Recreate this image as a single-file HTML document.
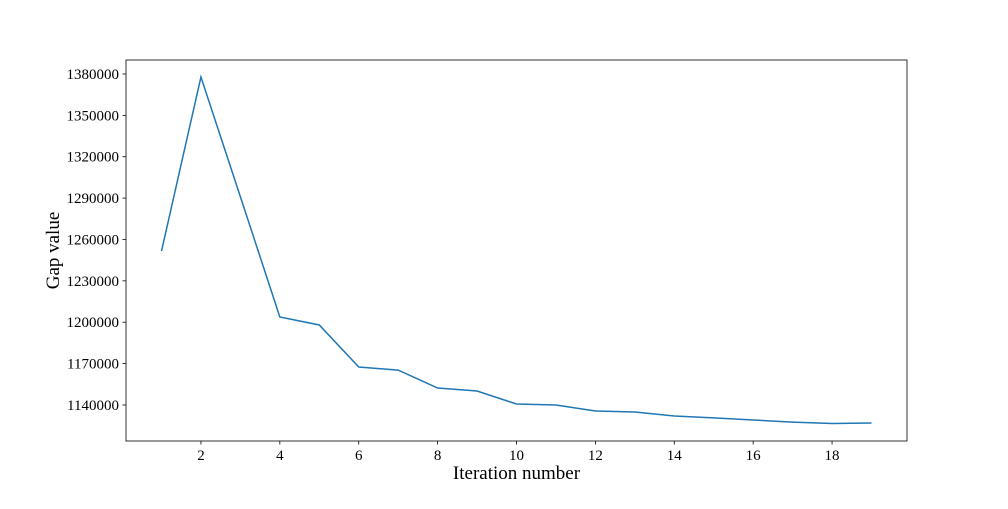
<!DOCTYPE html>
<html><head><meta charset="utf-8"><style>
body{margin:0;background:#fff;}
svg text{font-family:"Liberation Serif",serif;}
</style></head><body>
<svg id="chart" width="1008" height="504" xmlns="http://www.w3.org/2000/svg"></svg>
<script>
const iterations=[1,2,3,4,5,6,7,8,9,10,11,12,13,14,15,16,17,18,19];
const gapValues=[1251600,1377800,1291000,1203800,1198000,1167500,1165300,1152300,1150100,1140700,1140000,1135600,1134900,1132000,1130600,1129100,1127600,1126600,1126900];
const xTicks=[2,4,6,8,10,12,14,16,18];
const yTicks=[1140000,1170000,1200000,1230000,1260000,1290000,1320000,1350000,1380000];
const L=126,R=907,T=60,B=441;
const xMin=0.1,xMax=19.9,yMin=1113870,yMax=1390150;
const sx=v=>L+(v-xMin)/(xMax-xMin)*(R-L);
const sy=v=>B-(v-yMin)/(yMax-yMin)*(B-T);
const svg=document.getElementById('chart');
const NS='http://www.w3.org/2000/svg';
function mk(t,a,txt){const e=document.createElementNS(NS,t);for(const k in a)e.setAttribute(k,a[k]);if(txt!==undefined)e.textContent=txt;svg.appendChild(e);return e;}
let frame=mk('rect',{x:L,y:T,width:R-L,height:B-T,fill:'none',stroke:'#000','stroke-width':0.8});


xTicks.forEach(v=>{
  const x=sx(v);
  let t=mk('line',{x1:x,x2:x,y1:B,y2:B+3.5,stroke:'#000','stroke-width':0.8});
  
  
  let l=mk('text',{x:x,y:B+19,'font-size':15,'text-anchor':'middle'},String(v));
  
  
});
yTicks.forEach(v=>{
  const y=sy(v);
  let t=mk('line',{x1:L-3.5,x2:L,y1:y,y2:y,stroke:'#000','stroke-width':0.8});
  
  
  let l=mk('text',{x:L-7,y:y+5,'font-size':15,'text-anchor':'end'},String(v));
  
  
});
let pts=iterations.map((v,i)=>sx(v).toFixed(2)+','+sy(gapValues[i]).toFixed(2)).join(' ');
let line=mk('polyline',{points:pts,fill:'none',stroke:'#1f77b4','stroke-width':1.5});


let xl=mk('text',{x:(L+R)/2,y:479,'font-size':19,'text-anchor':'middle'},'Iteration number');


let yl=mk('text',{x:59,y:(T+B)/2,'font-size':19,'text-anchor':'middle',transform:'rotate(-90 59 '+((T+B)/2)+')'},'Gap value');


</script>
</body></html>
